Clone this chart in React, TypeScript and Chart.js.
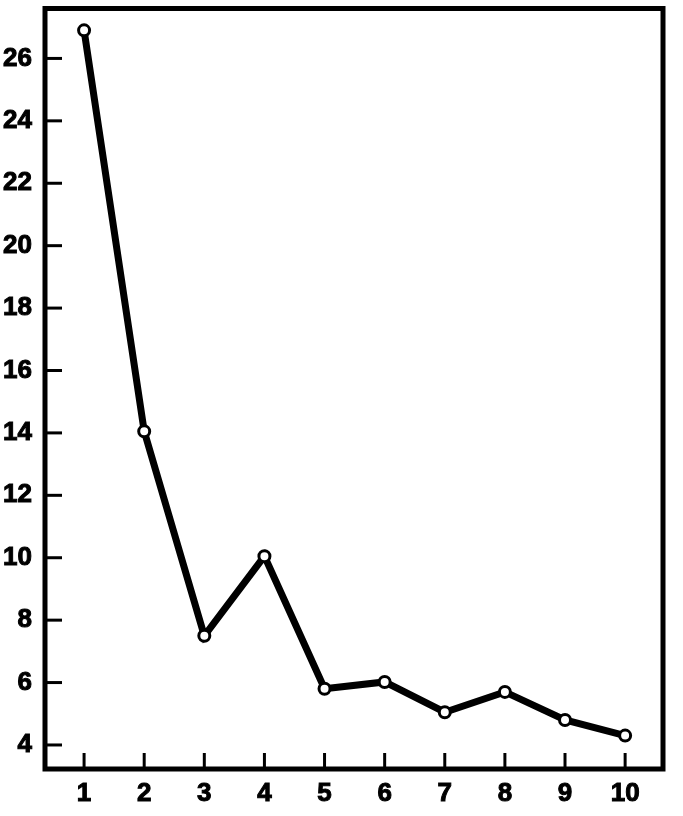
import React, { useEffect, useRef } from "react";
import { Chart, registerables } from "chart.js";

Chart.register(...registerables);

const xValues = [1, 2, 3, 4, 5, 6, 7, 8, 9, 10];
const yValues = [26.9, 14.05, 7.5, 10.05, 5.8, 6.02, 5.05, 5.7, 4.8, 4.3];
const yTicks = [4, 6, 8, 10, 12, 14, 16, 18, 20, 22, 24, 26];
const xTicks = [1, 2, 3, 4, 5, 6, 7, 8, 9, 10];

const FONT = { family: "'Liberation Sans', Arial, sans-serif", size: 26, weight: "bold" as const };

const framePlugin = {
  id: "frameTicks",
  afterDatasetsDraw(chart: any) {
    const { ctx, chartArea, scales } = chart;
    const { left, right, top, bottom } = chartArea;
    ctx.save();
    ctx.strokeStyle = "#000";
    ctx.lineCap = "butt";
    ctx.lineWidth = 3;
    yTicks.forEach((v) => {
      const y = scales.y.getPixelForValue(v);
      ctx.beginPath();
      ctx.moveTo(left, y);
      ctx.lineTo(left + 17, y);
      ctx.stroke();
    });
    xTicks.forEach((v) => {
      const x = scales.x.getPixelForValue(v);
      ctx.beginPath();
      ctx.moveTo(x, bottom);
      ctx.lineTo(x, bottom - 16);
      ctx.stroke();
    });
    ctx.lineWidth = 5;
    ctx.lineJoin = "miter";
    ctx.strokeRect(left, top, right - left, bottom - top);
    ctx.restore();
  },
};

export default function App() {
  const ref = useRef<HTMLCanvasElement>(null);
  useEffect(() => {
    if (!ref.current) return;
    const chart = new Chart(ref.current, {
      type: "line",
      data: {
        datasets: [
          {
            data: xValues.map((x, i) => ({ x, y: yValues[i] })),
            borderColor: "#000",
            borderWidth: 7,
            pointRadius: 5.5,
            pointBorderWidth: 3,
            pointBackgroundColor: "#fff",
            pointBorderColor: "#000",
            tension: 0,
            clip: false as any,
          },
        ],
      },
      options: {
        animation: false,
        responsive: false,
        maintainAspectRatio: false,
        layout: { padding: { top: 6, right: 20, left: 0, bottom: 0 } },
        plugins: { legend: { display: false }, tooltip: { enabled: false } },
        scales: {
          x: {
            type: "linear",
            min: 0.35,
            max: 10.63,
            grid: { display: false, drawTicks: false },
            border: { display: false },
            afterBuildTicks: (s: any) => {
              s.ticks = xTicks.map((v) => ({ value: v }));
            },
            afterFit: (s: any) => {
              s.height = 47;
              s.paddingLeft = 0;
              s.paddingRight = 0;
            },
            ticks: {
              padding: 9,
              color: "#000",
              font: FONT,
              textStrokeColor: "#000",
              textStrokeWidth: 1,
              callback: (v: any) => String(v),
            },
          },
          y: {
            type: "linear",
            min: 3.23,
            max: 27.6,
            grid: { display: false, drawTicks: false },
            border: { display: false },
            afterBuildTicks: (s: any) => {
              s.ticks = yTicks.map((v) => ({ value: v }));
            },
            afterFit: (s: any) => {
              s.width = 45;
              s.paddingTop = 0;
              s.paddingBottom = 0;
            },
            ticks: {
              padding: 13,
              color: "#000",
              font: FONT,
              textStrokeColor: "#000",
              textStrokeWidth: 1,
              callback: (v: any) => String(v),
            },
          },
        },
      },
      plugins: [framePlugin],
    });
    return () => chart.destroy();
  }, []);
  return (
    <div style={{ position: "absolute", left: 0, top: 0, width: 683, height: 816, background: "#fff" }}>
      <canvas ref={ref} width={683} height={816} style={{ width: 683, height: 816 }} />
    </div>
  );
}
